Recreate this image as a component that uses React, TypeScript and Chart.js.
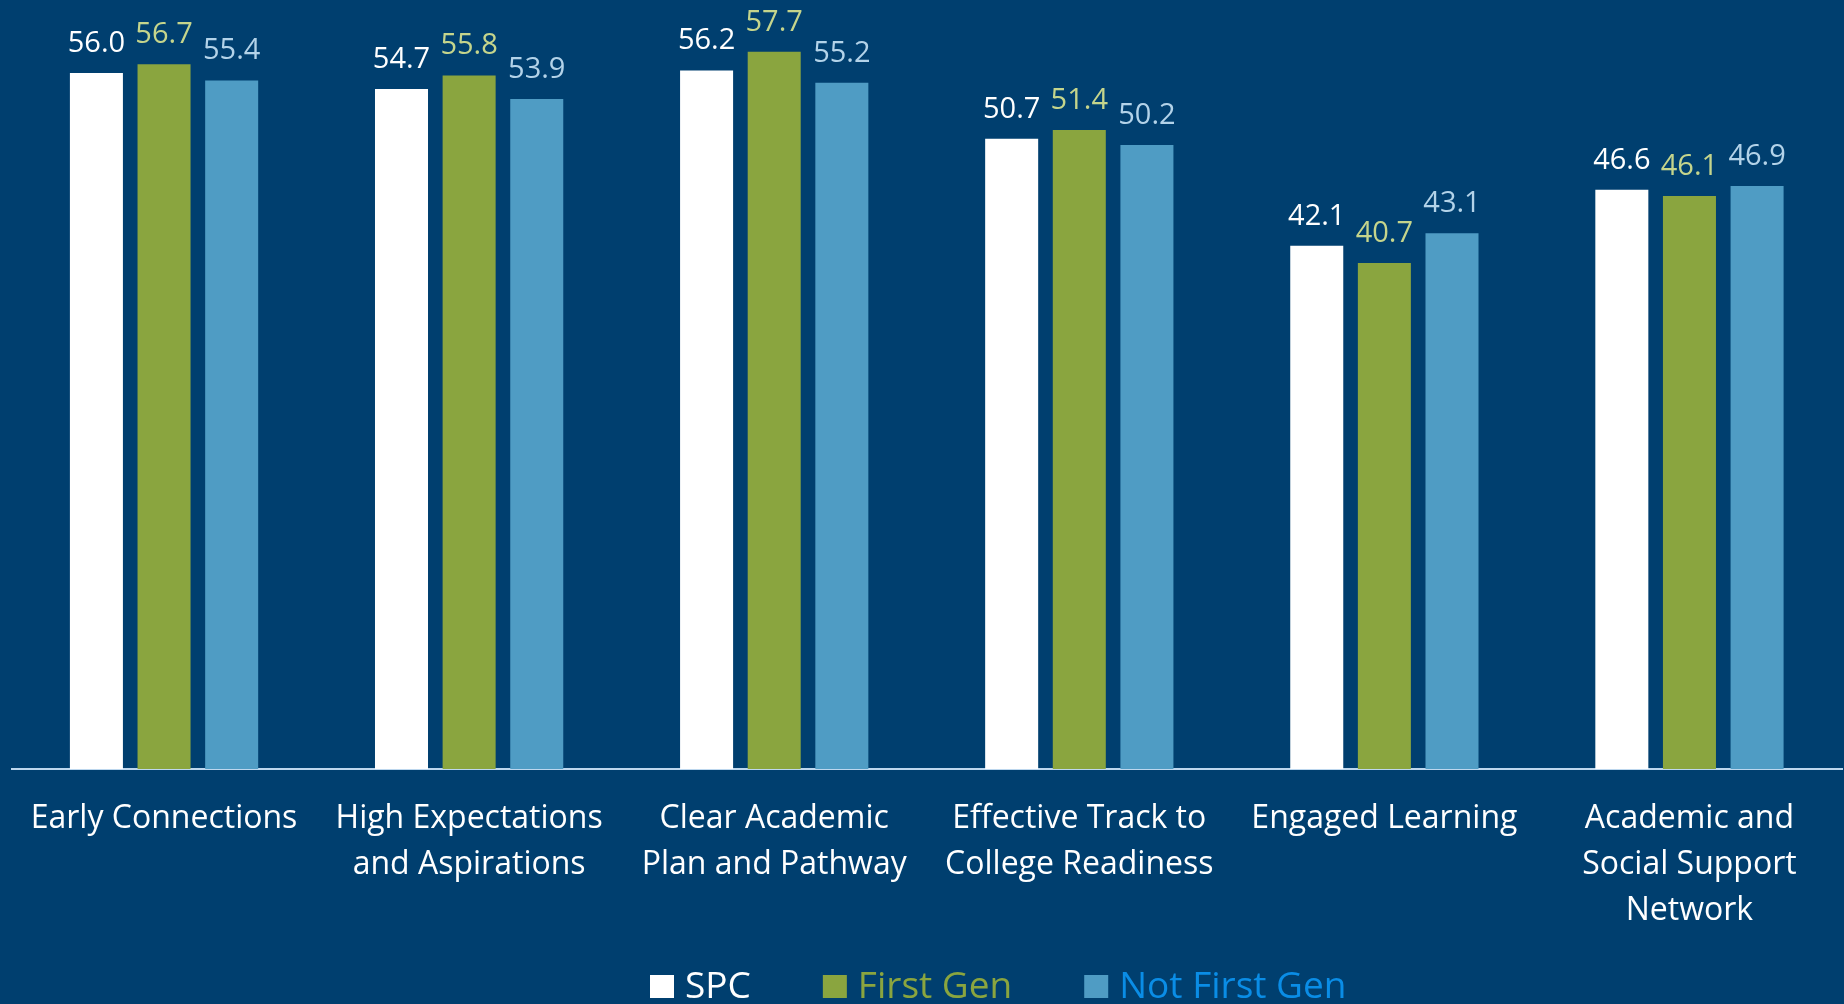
import React, { useEffect, useRef } from "react";
import { Chart, registerables } from "chart.js";

Chart.register(...registerables);

const categories: string[][] = [
  ["Early Connections"],
  ["High Expectations", "and Aspirations"],
  ["Clear Academic", "Plan and Pathway"],
  ["Effective Track to", "College Readiness"],
  ["Engaged Learning"],
  ["Academic and", "Social Support", "Network"],
];

const seriesNames = ["SPC", "First Gen", "Not First Gen"];
const spcValues = [56.0, 54.7, 56.2, 50.7, 42.1, 46.6];
const firstGenValues = [56.7, 55.8, 57.7, 51.4, 40.7, 46.1];
const notFirstGenValues = [55.4, 53.9, 55.2, 50.2, 43.1, 46.9];

const barColors = ["#FFFFFF", "#8AA53F", "#4F9CC4"];
const valueLabelColors = ["#FFFFFF", "#C5D58C", "#B3D3E9"];
const legendTextColors = ["#FFFFFF", "#8AA53F", "#0A8DE6"];
const BG = "#003F6F";
const FONT = "'Open Sans', 'Noto Sans', sans-serif";

const valueLabelPlugin = {
  id: "valueLabels",
  afterDatasetsDraw(chart: any) {
    const ctx = chart.ctx;
    ctx.save();
    ctx.font = `29px ${FONT}`;
    ctx.textAlign = "center";
    ctx.textBaseline = "alphabetic";
    chart.data.datasets.forEach((ds: any, i: number) => {
      const meta = chart.getDatasetMeta(i);
      ctx.fillStyle = valueLabelColors[i];
      meta.data.forEach((bar: any, j: number) => {
        ctx.fillText(Number(ds.data[j]).toFixed(1), bar.x, bar.y - 21);
      });
    });
    ctx.restore();
  },
};

const legendPlugin = {
  id: "customLegend",
  afterDraw(chart: any) {
    const ctx = chart.ctx;
    ctx.save();
    ctx.font = `37px ${FONT}`;
    ctx.textBaseline = "alphabetic";
    ctx.textAlign = "left";
    let x = 650;
    const boxTop = 975;
    const baseline = 998;
    seriesNames.forEach((name, i) => {
      ctx.fillStyle = barColors[i];
      ctx.fillRect(x, boxTop, 24, 23);
      x += 24 + 11;
      ctx.fillStyle = legendTextColors[i];
      ctx.fillText(name, x, baseline);
      x += ctx.measureText(name).width + 72;
    });
    ctx.restore();
  },
};

export default function App() {
  const ref = useRef<HTMLCanvasElement | null>(null);

  useEffect(() => {
    if (!ref.current) return;
    const datasetsValues = [spcValues, firstGenValues, notFirstGenValues];
    const chart = new Chart(ref.current, {
      type: "bar",
      data: {
        labels: categories,
        datasets: datasetsValues.map((vals, i) => ({
          label: seriesNames[i],
          data: vals,
          backgroundColor: barColors[i],
          borderWidth: 0,
          categoryPercentage: 0.665,
          barPercentage: 0.784,
        })),
      },
      options: {
        animation: false,
        responsive: false,
        maintainAspectRatio: false,
        layout: { padding: { top: 23.2, left: 11.5, right: 2, bottom: 75 } },
        plugins: {
          legend: { display: false },
          tooltip: { enabled: false },
        },
        scales: {
          x: {
            grid: { display: false, drawTicks: false },
            border: { display: true, color: "#BDD7EE", width: 2 },
            ticks: {
              color: "#FFFFFF",
              font: { family: FONT, size: 32, lineHeight: 1.44 },
              padding: 27,
              maxRotation: 0,
              autoSkip: false,
            },
            afterFit(scale: any) {
              scale.height = 160;
            },
          },
          y: {
            display: false,
            min: 0,
            max: 60,
          },
        },
      },
      plugins: [valueLabelPlugin, legendPlugin],
    });
    return () => chart.destroy();
  }, []);

  return (
    <div
      style={{
        position: "fixed",
        left: 0,
        top: 0,
        width: 1844,
        height: 1004,
        background: BG,
      }}
    >
      <canvas ref={ref} width={1844} height={1004} style={{ display: "block" }} />
    </div>
  );
}
